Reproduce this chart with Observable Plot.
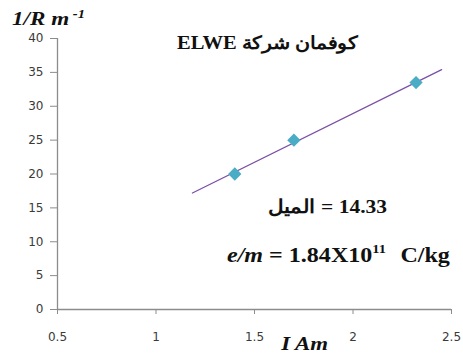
<!DOCTYPE html>
<html>
<head>
<meta charset="utf-8">
<script src="https://cdn.jsdelivr.net/npm/d3@7"></script>
<script src="https://cdn.jsdelivr.net/npm/@observablehq/plot@0.6"></script>
<style>
  html, body { margin: 0; padding: 0; background: #fff; }
  #chart { width: 463px; height: 356px; }
</style>
</head>
<body>
<div id="chart"></div>
<script>
// Measured current I (A) and inverse orbit radius 1/R (m^-1)
const currents = [1.4, 1.7, 2.32];
const inverseRadius = [20, 25, 33.5];

// Fitted straight line, drawn between its two end points
const fitCurrent = [1.185, 2.45];
const fitInverseRadius = [17.2, 35.4];

// Axis ticks
const xTicks = [0.5, 1, 1.5, 2, 2.5];
const yTicks = [0, 5, 10, 15, 20, 25, 30, 35, 40];

// Text
const titleText = "ELWE كوفمان شركة";
const slopeText = "الميل\u200E = 14.33";
const ratioMantissa = "1.84X10";
const ratioExponent = "11";
const ratioUnit = "C/kg";

const points = currents.map((I, i) => ({I, invR: inverseRadius[i]}));
const fit = fitCurrent.map((I, i) => ({I, invR: fitInverseRadius[i]}));

const axisGray = "#8c8c8c";
const serif = "'Liberation Serif', 'Times New Roman', serif";

const plot = Plot.plot({
  width: 463,
  height: 356,
  marginLeft: 57,
  marginRight: 12,
  marginTop: 38,
  marginBottom: 47,
  style: {background: "#fff", fontFamily: "'DejaVu Sans', sans-serif"},
  x: {domain: [0.5, 2.5]},
  y: {domain: [0, 40]},
  marks: [
    Plot.ruleY([0], {stroke: axisGray, strokeWidth: 1.3}),
    Plot.ruleX([0.5], {stroke: axisGray, strokeWidth: 1.3}),
    Plot.axisX({ticks: xTicks, tickFormat: d => String(d), tickSize: 5, tickPadding: 18,
      stroke: axisGray, fill: "#3a3a3a", fontSize: 12, label: null}),
    Plot.axisY({ticks: yTicks, tickFormat: d => String(d), tickSize: 7, tickPadding: 7,
      stroke: axisGray, fill: "#3a3a3a", fontSize: 12, label: null}),
    Plot.line(fit, {x: "I", y: "invR", stroke: "#7b4fa6", strokeWidth: 1.3}),
    Plot.dot(points, {x: "I", y: "invR", symbol: "diamond2", r: 6, fill: "#4bacc6", stroke: "none"})
  ]
});

document.getElementById("chart").appendChild(plot);

const svg = d3.select(plot);
const sx = plot.scale("x").apply;
const sy = plot.scale("y").apply;

// Left-anchored bold serif label; stretched horizontally to the given width
function label(x, y, size, width, build, italic = false) {
  const g = svg.append("g");
  const t = g.append("text")
    .attr("x", 0).attr("y", 0)
    .attr("text-anchor", "start")
    .attr("direction", "ltr")
    .attr("font-family", serif)
    .attr("font-weight", "bold")
    .attr("font-style", italic ? "italic" : "normal")
    .attr("font-size", size)
    .attr("fill", "#111");
  build(t);
  const box = t.node().getBBox();
  const k = width / box.width;
  g.attr("transform", `translate(${x},${y}) scale(${k},1) translate(${-box.x},0)`);
  return t;
}

// Chart title
label(sx(1.109), sy(38.38), 18, 183, t => t.text(titleText));

// Slope of the fitted line
label(sx(1.571), sy(14.17), 19, 119, t => t.text(slopeText));

// Charge-to-mass ratio
label(sx(1.363), sy(6.94), 20, 223, t => {
  t.append("tspan").attr("font-style", "italic").text("e/m");
  t.append("tspan").text(" = " + ratioMantissa);
  t.append("tspan").attr("font-size", 12).attr("dy", "-0.75em").text(ratioExponent);
  t.append("tspan").attr("dy", "0.45em").attr("dx", 12).text(ratioUnit);
});

// Axis titles
label(12, 25, 19, 73, t => {
  t.append("tspan").text("1/R m");
  t.append("tspan").attr("font-size", 12).attr("dy", "-0.6em").text(" -1");
}, true);

label(280, 350, 19, 48, t => t.text("I Am"), true);
</script>
</body>
</html>
